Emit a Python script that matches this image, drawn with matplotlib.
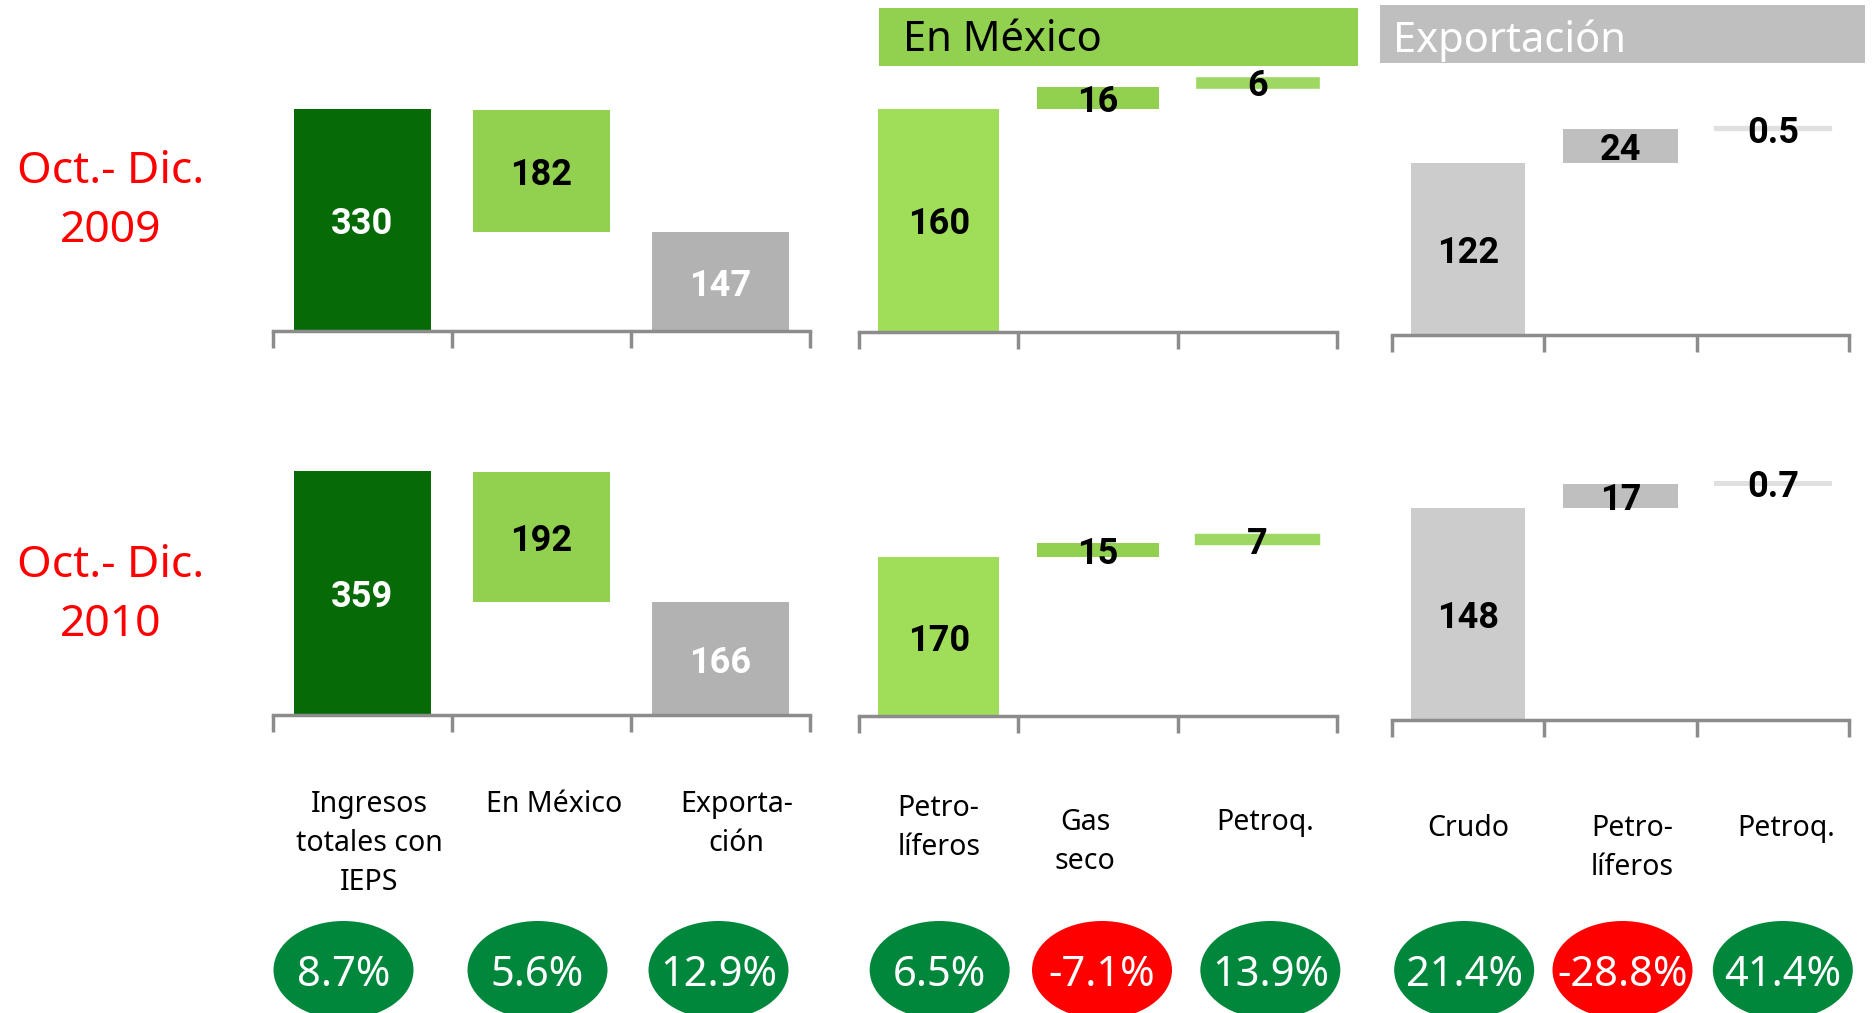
import matplotlib
matplotlib.use("Agg")
import matplotlib.pyplot as plt
from matplotlib.patches import Rectangle, Ellipse

plt.rcParams['font.family'] = ['Noto Sans', 'DejaVu Sans']

W, H, DPI = 1873, 1013, 100

# ---------------- data ----------------
period_labels = ["Oct.- Dic.\n2009", "Oct.- Dic.\n2010"]

total_categories = ["Ingresos\ntotales con\nIEPS", "En México", "Exporta-\nción"]
mexico_categories = ["Petro-\nlíferos", "Gas\nseco", "Petroq."]
export_categories = ["Crudo", "Petro-\nlíferos", "Petroq."]

total_2009 = [330, 182, 147]     # total, en México, exportación
total_2010 = [359, 192, 166]
mexico_2009 = [160, 16, 6]       # petrolíferos, gas seco, petroquímicos
mexico_2010 = [170, 15, 7]
export_2009 = [122, 24, 0.5]     # crudo, petrolíferos, petroquímicos
export_2010 = [148, 17, 0.7]

total_growth = [8.7, 5.6, 12.9]
mexico_growth = [6.5, -7.1, 13.9]
export_growth = [21.4, -28.8, 41.4]

mexico_title = "En México"
export_title = "Exportación"


def bottoms_total(vals):
    # total and exportación from zero, en México stacked on top of exportación
    return [0, vals[2], 0]


def bottoms_cumulative(vals):
    out, acc = [], 0
    for v in vals:
        out.append(acc)
        acc += v
    return out


# ---------------- layout / style ----------------
fig = plt.figure(figsize=(W / DPI, H / DPI), dpi=DPI)
fig.patch.set_facecolor("white")


def fig_rect(x0, y0, x1, y1):
    return [x0 / W, 1 - y1 / H, (x1 - x0) / W, (y1 - y0) / H]


AXIS_GRAY = "#8C8C8C"
GREEN_DARK = "#066A06"
GREEN = "#92D050"
GREEN_LIGHT = "#A0DE5A"
BALL_GREEN = "#00873C"
BALL_RED = "#FF0000"
VALUE_FONT = ['Roboto', 'DejaVu Sans']

columns = [
    dict(x0=273, x1=810, width=0.76, cats=total_categories, growth=total_growth,
         data=[total_2009, total_2010], bottoms=bottoms_total,
         colors=[GREEN_DARK, GREEN, "#B2B2B2"], tcolors=["white", "black", "white"],
         min_px=0, cat_top=790, cat_dx=[7, 13, 16], cat_dy=[0, 0, 0],
         ball_dx=[-19, -4, -2]),
    dict(x0=859, x1=1337, width=0.76, cats=mexico_categories, growth=mexico_growth,
         data=[mexico_2009, mexico_2010], bottoms=bottoms_cumulative,
         colors=[GREEN_LIGHT, GREEN, "#9ED862"], tcolors=["black"] * 3,
         min_px=11, cat_top=801, cat_dx=[0, -13, 8], cat_dy=[-7, 7, 7],
         ball_dx=[1, 4, 13]),
    dict(x0=1392, x1=1849, width=0.75, cats=export_categories, growth=export_growth,
         data=[export_2009, export_2010], bottoms=bottoms_cumulative,
         colors=["#CCCCCC", "#BFBFBF", "#E0E0E0"], tcolors=["black"] * 3,
         min_px=5, cat_top=814, cat_dx=[0, 12, 13], cat_dy=[0, 0, 0],
         ball_dx=[-4, 2, 10]),
]

rows = [
    dict(axis_y=[331, 332, 335], ppu=[0.673, 1.394, 1.41], top=60, label_top=150),
    dict(axis_y=[715, 716, 720], ppu=[0.68, 0.935, 1.432], top=380, label_top=544),
]

for r, row in enumerate(rows):
    for c, col in enumerate(columns):
        ay = row["axis_y"][c]
        ppu = row["ppu"][c]
        ax = fig.add_axes(fig_rect(col["x0"], row["top"], col["x1"], ay))
        ax.set_xlim(-0.5, 2.5)
        ax.set_ylim(0, (ay - row["top"]) / ppu)
        vals = col["data"][r]
        bots = col["bottoms"](vals)
        for i, (v, b) in enumerate(zip(vals, bots)):
            hpx = v * ppu
            lw = max(0.0, col["min_px"] - hpx) * 72 / DPI
            ax.bar(i, v, bottom=b, width=col["width"], color=col["colors"][i],
                   edgecolor=col["colors"][i], linewidth=lw, zorder=2)
            ax.text(i, b + v / 2, f"{v:g}", ha="center", va="center_baseline",
                    fontsize=26, fontweight="bold", family=VALUE_FONT,
                    color=col["tcolors"][i], zorder=4)
        for s in ("top", "left", "right"):
            ax.spines[s].set_visible(False)
        ax.spines["bottom"].set_color(AXIS_GRAY)
        ax.spines["bottom"].set_linewidth(2.5)
        ax.set_xticks([-0.5, 0.5, 1.5, 2.5])
        ax.tick_params(axis="x", direction="out", length=12, width=2.5,
                       color=AXIS_GRAY, labelbottom=False)
        ax.set_yticks([])
        ax.patch.set_alpha(0)

    fig.text(111 / W, 1 - row["label_top"] / H, period_labels[r], ha="center",
             va="top", multialignment="center", fontsize=32, color="#FF0000",
             linespacing=1.44)

# category labels and growth balls
for col in columns:
    lab = fig.add_axes(fig_rect(col["x0"], 770, col["x1"], H))
    lab.set_xlim(-0.5, 2.5)
    lab.set_ylim(H, 770)
    lab.axis("off")
    catw = (col["x1"] - col["x0"]) / 3
    for i, (cat, g) in enumerate(zip(col["cats"], col["growth"])):
        lab.text(i + col["cat_dx"][i] / catw, col["cat_top"] + col["cat_dy"][i], cat,
                 ha="center", va="top", multialignment="center", fontsize=20.5,
                 linespacing=1.46)
        bx = i + col["ball_dx"][i] / catw
        e = Ellipse((bx, 970), width=140 / catw, height=98,
                    facecolor=BALL_GREEN if g >= 0 else BALL_RED, edgecolor="none",
                    clip_on=False)
        lab.add_patch(e)
        lab.text(bx, 970, f"{g:.1f}%", ha="center", va="center_baseline",
                 fontsize=30, color="white", clip_on=False)

# section headers
fig.add_artist(Rectangle((879 / W, 1 - 66 / H), (1358 - 879) / W, 58 / H,
                         transform=fig.transFigure, facecolor=GREEN, edgecolor="none"))
fig.text(903 / W, 1 - 51 / H, mexico_title, fontsize=30, color="black", va="baseline")
fig.add_artist(Rectangle((1380 / W, 1 - 63 / H), (1865 - 1380) / W, 58 / H,
                         transform=fig.transFigure, facecolor="#BFBFBF", edgecolor="none"))
fig.text(1393 / W, 1 - 52 / H, export_title, fontsize=30, color="white", va="baseline")

fig.savefig("out.png", dpi=DPI, facecolor="white")
